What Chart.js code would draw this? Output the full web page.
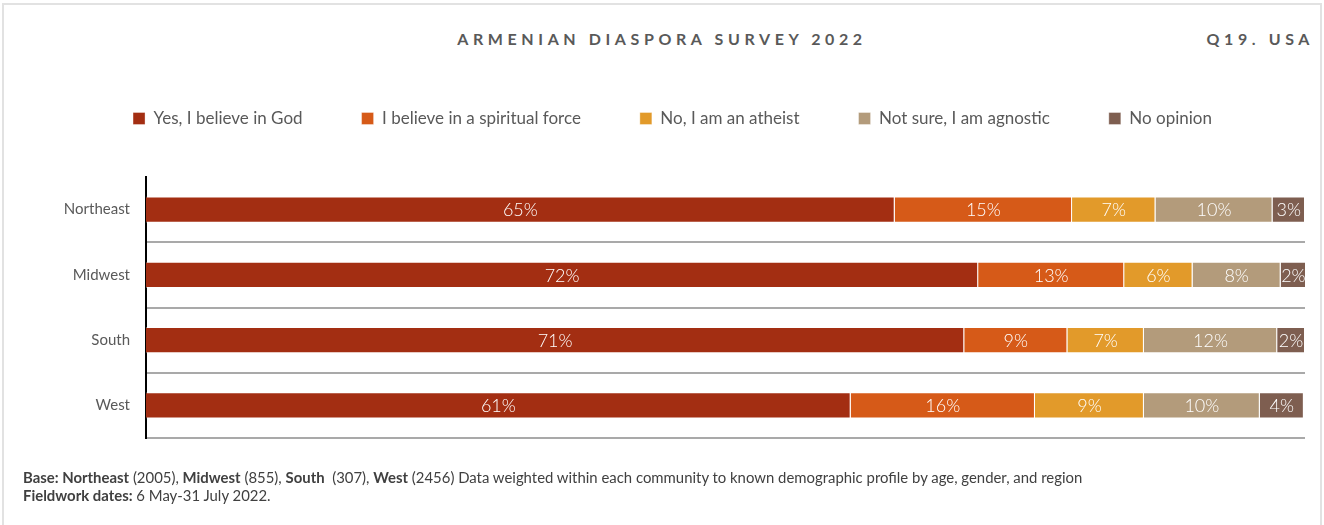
<!DOCTYPE html>
<html>
<head>
<meta charset="utf-8">
<script src="https://cdn.jsdelivr.net/npm/chart.js@4.4.0/dist/chart.umd.min.js"></script>
<style>
body { margin: 0; background: #fff; font-family: Lato, sans-serif; }
#frame { position: absolute; left: 2px; top: 3px; width: 1316px; height: 540px; border: 2px solid #e2e2e2; border-bottom: none; }
.title { position: absolute; top: 29px; font-weight: bold; font-size: 16px; letter-spacing: 4.6px; color: #595959; white-space: nowrap; }
#wrap { position: absolute; left: 0; top: 0; width: 1324px; height: 525px; }
.foot { position: absolute; left: 23px; font-size: 14.9px; line-height: 18px; color: #404040; white-space: nowrap; }
</style>
</head>
<body>
<div id="frame"></div>
<div class="title" style="left:0;width:1324px;text-align:center;">ARMENIAN DIASPORA SURVEY 2022</div>
<div class="title" style="right:10px;">Q19. USA</div>
<div id="wrap"><canvas id="chart"></canvas></div>
<div class="foot" style="top:468px;"><b>Base: Northeast</b> (2005), <b>Midwest</b> (855), <b>South</b>&nbsp; (307), <b>West</b> (2456) Data weighted within each community to known demographic profile by age, gender, and region</div>
<div class="foot" style="top:486px;"><b>Fieldwork dates:</b> 6 May-31 July 2022.</div>

<script>
const regions = ['Northeast', 'Midwest', 'South', 'West'];
const answers = ['Yes, I believe in God', 'I believe in a spiritual force', 'No, I am an atheist', 'Not sure, I am agnostic', 'No opinion'];
const colors = ['#a32e12', '#d65a18', '#e29a2a', '#b39b7b', '#7e5e50'];

// share of answers per region, %
const believeGod = [64.6, 71.8, 70.6, 60.8];
const spiritual = [15.3, 12.6, 8.9, 15.9];
const atheist = [7.2, 5.9, 6.6, 9.4];
const agnostic = [10.1, 7.6, 11.5, 10.0];
const noOpinion = [2.8, 2.2, 2.4, 3.8];

const series = [believeGod, spiritual, atheist, agnostic, noOpinion];

// push the plot down below the legend
const legendSpacer = {
    id: 'legendSpacer',
    beforeInit(chart) {
        const fit = chart.legend.fit;
        chart.legend.fit = function () {
            fit.bind(chart.legend)();
            this.height += 40;
        };
    }
};

// white percent labels in the middle of each segment
const barLabels = {
    id: 'barLabels',
    afterDatasetsDraw(chart) {
        const ctx = chart.ctx;
        ctx.save();
        ctx.font = '300 18px Lato';
        ctx.fillStyle = '#fff';
        ctx.textAlign = 'center';
        ctx.textBaseline = 'middle';
        chart.data.datasets.forEach((ds, i) => {
            chart.getDatasetMeta(i).data.forEach((bar, j) => {
                const p = bar.getCenterPoint();
                ctx.fillText(Math.round(ds.data[j]) + '%', p.x, p.y + 1);
            });
        });
        ctx.restore();
    }
};

new Chart(document.getElementById('chart'), {
    type: 'bar',
    data: {
        labels: regions,
        datasets: answers.map((a, i) => ({
            label: a,
            data: series[i],
            backgroundColor: colors[i],
            borderColor: 'rgba(255,255,255,0.35)',
            borderWidth: 1,
            barPercentage: 0.4,
            categoryPercentage: 1
        }))
    },
    options: {
        indexAxis: 'y',
        responsive: true,
        maintainAspectRatio: false,
        animation: false,
        layout: { padding: { top: 51, right: 19, bottom: 87, left: 40 } },
        scales: {
            x: { stacked: true, min: 0, max: 100, display: false },
            y: {
                stacked: true,
                afterFit(scale) { scale.width = 106; },
                border: { color: '#000', width: 2 },
                grid: {
                    offset: true,
                    drawTicks: false,
                    lineWidth: 2,
                    color: c => c.index === 0 ? 'rgba(0,0,0,0)' : '#a9a9a9'
                },
                ticks: { color: '#595959', padding: 16, font: { family: 'Lato', size: 15 } }
            }
        },
        plugins: {
            legend: {
                position: 'top',
                labels: {
                    color: '#595959',
                    boxWidth: 12,
                    boxHeight: 12,
                    padding: 59,
                    font: { family: 'Lato', size: 17 }
                }
            },
            tooltip: { enabled: false }
        }
    },
    plugins: [legendSpacer, barLabels]
});
</script>
</body>
</html>
